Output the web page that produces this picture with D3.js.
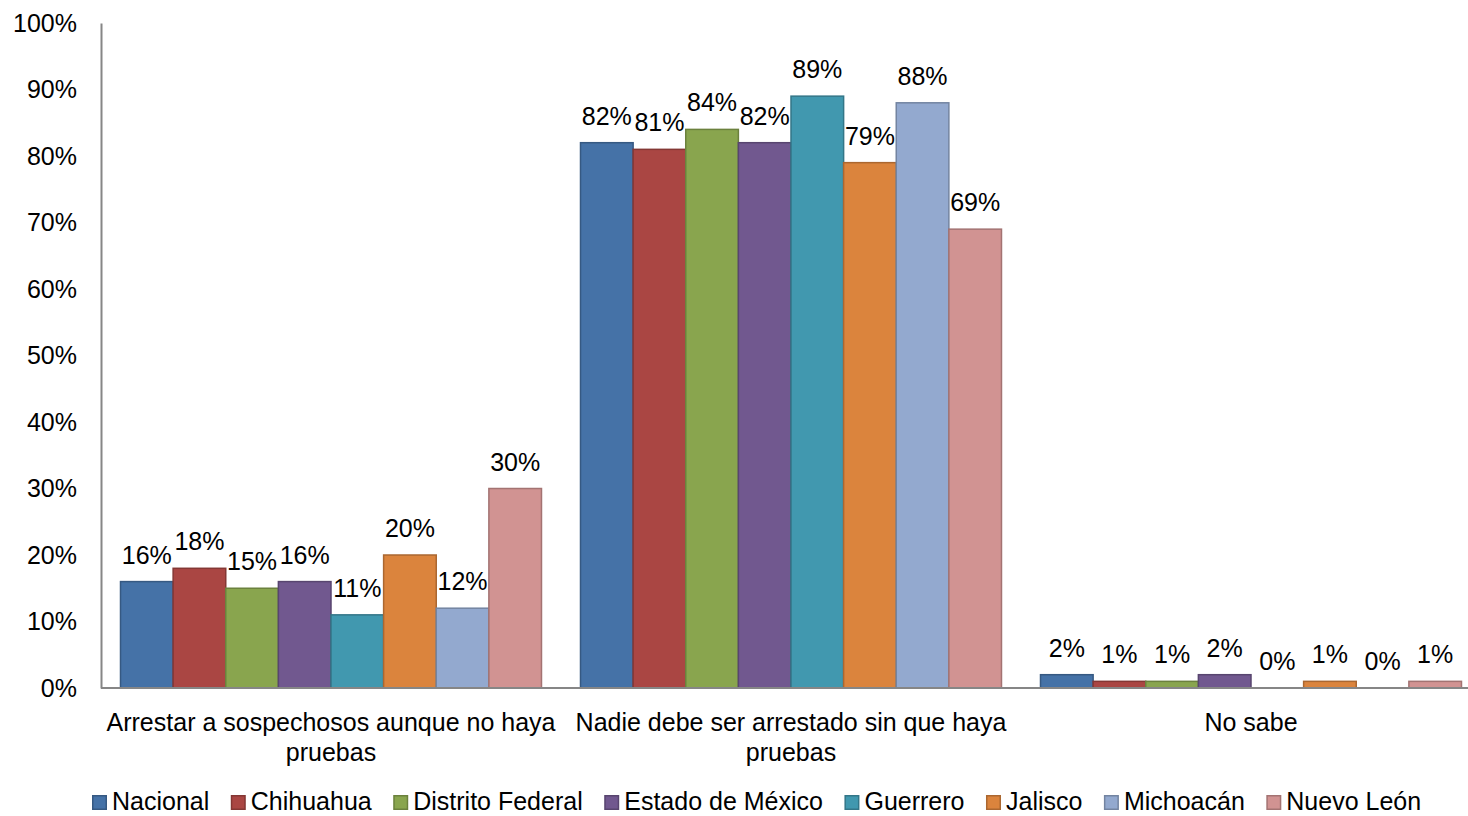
<!DOCTYPE html>
<html>
<head>
<meta charset="utf-8">
<script src="https://cdn.jsdelivr.net/npm/d3@7"></script>
<style>
  body { margin: 0; background: #fff; }
  svg { display: block; font-family: "Liberation Sans", Arial, sans-serif; }
</style>
</head>
<body>
<svg id="chart" width="1468" height="816"></svg>
<script>
const categories = [
  "Arrestar a sospechosos aunque no haya pruebas",
  "Nadie debe ser arrestado sin que haya pruebas",
  "No sabe"
];
const seriesNames = ["Nacional", "Chihuahua", "Distrito Federal", "Estado de México", "Guerrero", "Jalisco", "Michoacán", "Nuevo León"];
const nacional = [16, 82, 2];
const chihuahua = [18, 81, 1];
const distritoFederal = [15, 84, 1];
const estadoMexico = [16, 82, 2];
const guerrero = [11, 89, 0];
const jalisco = [20, 79, 1];
const michoacan = [12, 88, 0];
const nuevoLeon = [30, 69, 1];
const yTicks = [0, 10, 20, 30, 40, 50, 60, 70, 80, 90, 100];
const colors = ["#4572A7", "#AA4643", "#89A54E", "#71588F", "#4198AF", "#DB843D", "#93A9CF", "#D19392"];

const seriesValues = [nacional, chihuahua, distritoFederal, estadoMexico, guerrero, jalisco, michoacan, nuevoLeon];

const svg = d3.select("#chart");
const mLeft = 101, mRight = 1481, mTop = 23, mBottom = 688;

const y = d3.scaleLinear().domain([0, 100]).range([mBottom, mTop]);
const x0 = d3.scaleBand().domain(categories).range([mLeft, mRight]).paddingInner(0.0848).paddingOuter(0.0424);
const x1 = d3.scaleBand().domain(seriesNames).range([0, x0.bandwidth()]);

// y axis
const yAxis = d3.axisLeft(y).tickValues(yTicks).tickFormat(d => d + "%").tickSize(0).tickPadding(24);
const gy = svg.append("g").attr("transform", `translate(${mLeft},0)`).call(yAxis);
gy.select(".domain").attr("stroke", "#868686").attr("stroke-width", 2);
gy.selectAll("text").attr("font-size", 25).attr("fill", "#000").attr("font-family", "Liberation Sans, Arial, sans-serif");

// bars
const groups = svg.append("g").selectAll("g").data(categories).join("g")
  .attr("transform", d => `translate(${x0(d)},0)`);

groups.each(function(cat, ci) {
  const g = d3.select(this);
  seriesNames.forEach((s, si) => {
    const v = seriesValues[si][ci];
    const fill = colors[si];
    if (v > 0) {
      g.append("rect")
        .attr("x", x1(s))
        .attr("y", y(v))
        .attr("width", x1.bandwidth())
        .attr("height", y(0) - y(v))
        .attr("fill", fill)
        .attr("stroke", d3.color(fill).darker(0.7))
        .attr("stroke-width", 1.5);
    }
    g.append("text")
      .attr("x", x1(s) + x1.bandwidth() / 2)
      .attr("y", y(v) - 18)
      .attr("text-anchor", "middle")
      .attr("font-size", 25)
      .attr("fill", "#000")
      .text(v + "%");
  });
});

// x axis line
svg.append("line").attr("x1", mLeft).attr("x2", 1468).attr("y1", mBottom).attr("y2", mBottom)
  .attr("stroke", "#868686").attr("stroke-width", 2);

// category labels with wrapping
categories.forEach(cat => {
  const cx = x0(cat) + x0.bandwidth() / 2;
  const t = svg.append("text").attr("x", cx).attr("y", 731).attr("text-anchor", "middle")
    .attr("font-size", 25).attr("fill", "#000");
  const words = cat.split(" ");
  let line = [];
  let tspan = t.append("tspan").attr("x", cx).attr("y", 731);
  let lineNo = 0;
  words.forEach(w => {
    line.push(w);
    tspan.text(line.join(" "));
    if (tspan.node().getComputedTextLength() > 455 && line.length > 1) {
      line.pop();
      tspan.text(line.join(" "));
      line = [w];
      lineNo++;
      tspan = t.append("tspan").attr("x", cx).attr("y", 731 + lineNo * 30).text(w);
    }
  });
});

// legend
const legend = svg.append("g");
let lx = 92;
seriesNames.forEach((s, i) => {
  const fill = colors[i];
  legend.append("rect").attr("x", lx + 0.75).attr("y", 795.75).attr("width", 13.5).attr("height", 13.5)
    .attr("fill", fill).attr("stroke", d3.color(fill).darker(0.7)).attr("stroke-width", 1.5);
  const t = legend.append("text").attr("x", lx + 20).attr("y", 810).attr("font-size", 25).attr("fill", "#000").text(s);
  lx += 20 + t.node().getComputedTextLength() + 21.5;
});
</script>
</body>
</html>
